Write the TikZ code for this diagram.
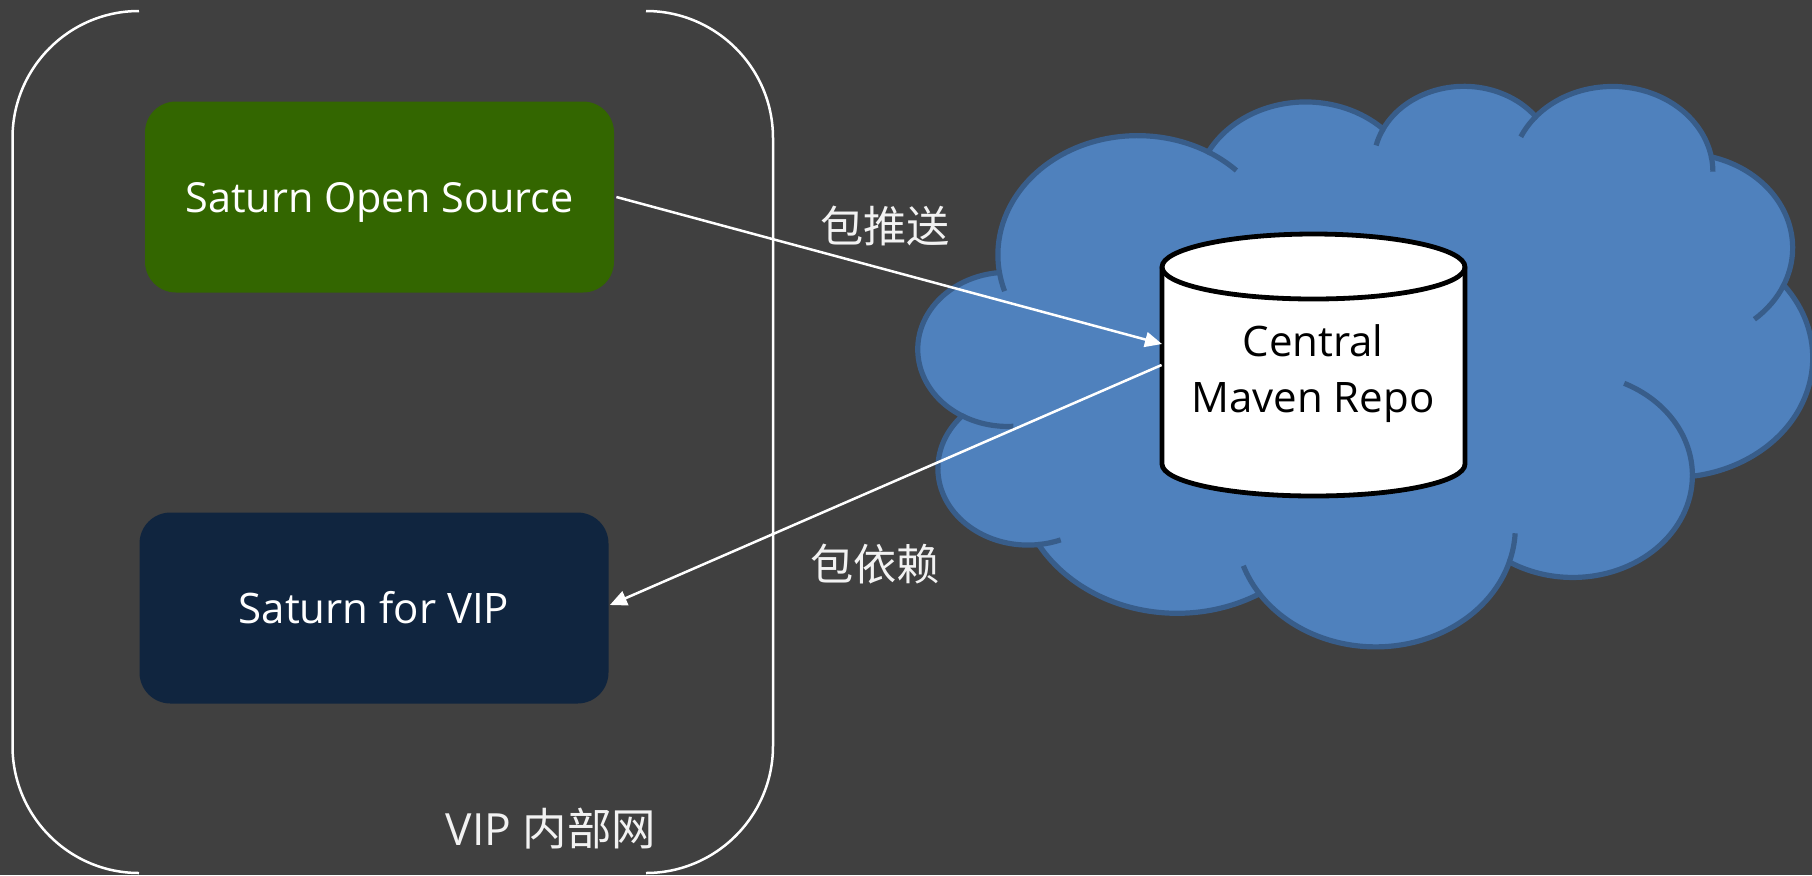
\documentclass[tikz,border=0pt]{standalone}
\usepackage{fontspec}
\setmainfont{Open Sans}
\newfontfamily\cjk{Noto Sans CJK SC}
\usetikzlibrary{arrows.meta}
\definecolor{bgc}{HTML}{404040}
\definecolor{cloudfill}{HTML}{4F81BD}
\definecolor{cloudline}{HTML}{385D8A}
\definecolor{greenbox}{HTML}{336600}
\definecolor{navybox}{HTML}{10253F}
\definecolor{soft}{HTML}{F2F2F2}
\newcommand\calcarc[5]{%
  \pgfmathsetmacro\tmpS{atan2(#2*sin(#4),#3*cos(#4))}%
  \pgfmathsetmacro\tmpE{atan2(#2*sin(#4+#5),#3*cos(#4+#5))}%
  \pgfmathsetmacro\tmpE{\tmpE<\tmpS ? \tmpE+360 : \tmpE}%
  \expandafter\let\csname cS#1\endcsname\tmpS
  \expandafter\let\csname cE#1\endcsname\tmpE}
\newcommand\ArcS[1]{\csname cS#1\endcsname}
\newcommand\ArcE[1]{\csname cE#1\endcsname}
\tikzset{
  panel/.style={rounded corners=15.5pt,minimum width=234.5pt,minimum height=95.5pt,inner sep=0pt,text=white,text height=18pt,text depth=3pt},
  bracketline/.style={draw=white,line width=1.25pt},
  cloudedge/.style={draw=cloudline,line width=2.6pt},
  link/.style={draw=white,line width=1.25pt,-{Triangle[length=8.5pt,width=7.5pt]}},
  cjklabel/.style={text=soft,inner sep=0pt,font=\fontsize{21.6}{25}\selectfont\cjk},
  cylline/.style={draw=black,line width=2.4pt,fill=white}
}
\begin{document}
\begin{tikzpicture}[x=0.5pt,y=-0.5pt]
\useasboundingbox (0,0) rectangle (1812,875);
\fill[bgc] (0,0) rectangle (1812,875);
% bracket
\draw[bracketline] (139,11) .. controls (69,11) and (12.5,68) .. (12.5,138) -- (12.5,746) .. controls (12.5,816) and (69,873) .. (139,873);
\draw[bracketline] (646,11) .. controls (716,11) and (773,68) .. (773,138) -- (773,746) .. controls (773,816) and (716,873) .. (646,873);
% cloud
\calcarc{a}{6753}{9190}{-190.4875}{123.7805}
\calcarc{b}{5333}{7267}{-144.1024}{89.9452}
\calcarc{c}{4365}{5945}{-145.8079}{99.7230}
\calcarc{d}{4857}{6595}{-130.9861}{117.2417}
\calcarc{e}{5333}{7273}{-78.7089}{109.0269}
\calcarc{f}{6775}{9220}{-46.2673}{130.2690}
\calcarc{g}{5785}{7867}{0.6250}{114.0333}
\calcarc{h}{6752}{9215}{22.4516}{115.1726}
\calcarc{i}{7720}{10543}{66.2426}{75.7110}
\calcarc{j}{4360}{5918}{-274.9421}{146.7356}
\calcarc{k}{4345}{5945}{-246.8285}{152.5189}
\begin{scope}[shift={(918.5,84.5)},x=0.01034pt,y=-0.00649pt]
\draw[cloudedge,fill=cloudfill] (3900,14370) coordinate (ja)
  arc[x radius=6753,y radius=9190,start angle=\ArcS{a},end angle=\ArcE{a}] coordinate (jb)
  arc[x radius=5333,y radius=7267,start angle=\ArcS{b},end angle=\ArcE{b}] coordinate (jc)
  arc[x radius=4365,y radius=5945,start angle=\ArcS{c},end angle=\ArcE{c}] coordinate (jd)
  arc[x radius=4857,y radius=6595,start angle=\ArcS{d},end angle=\ArcE{d}] coordinate (je)
  arc[x radius=5333,y radius=7273,start angle=\ArcS{e},end angle=\ArcE{e}] coordinate (jf)
  arc[x radius=6775,y radius=9220,start angle=\ArcS{f},end angle=\ArcE{f}] coordinate (jg)
  arc[x radius=5785,y radius=7867,start angle=\ArcS{g},end angle=\ArcE{g}] coordinate (jh)
  arc[x radius=6752,y radius=9215,start angle=\ArcS{h},end angle=\ArcE{h}] coordinate (ji)
  arc[x radius=7720,y radius=10543,start angle=\ArcS{i},end angle=\ArcE{i}] coordinate (jj)
  arc[x radius=4360,y radius=5918,start angle=\ArcS{j},end angle=\ArcE{j}] coordinate (jk)
  arc[x radius=4345,y radius=5945,start angle=\ArcS{k},end angle=\ArcE{k}] -- cycle;
\draw[cloudedge] (ja) arc[x radius=6753,y radius=9190,start angle=\ArcS{a},delta angle=-10];
\draw[cloudedge] (jb) arc[x radius=6753,y radius=9190,start angle=\ArcE{a},delta angle=14.6];
\draw[cloudedge] (jc) arc[x radius=4365,y radius=5945,start angle=\ArcS{c},delta angle=-13];
\draw[cloudedge] (jd) arc[x radius=4857,y radius=6595,start angle=\ArcS{d},delta angle=-16];
\draw[cloudedge] (je) arc[x radius=4857,y radius=6595,start angle=\ArcE{d},delta angle=10];
\draw[cloudedge] (jf) arc[x radius=5333,y radius=7273,start angle=\ArcE{e},delta angle=26];
\draw[cloudedge] (jg) arc[x radius=5785,y radius=7867,start angle=\ArcS{g},delta angle=-65];
\draw[cloudedge] (jh) arc[x radius=6752,y radius=9215,start angle=\ArcS{h},delta angle=-14];
\draw[cloudedge] (ji) arc[x radius=6752,y radius=9215,start angle=\ArcE{h},delta angle=15];
\draw[cloudedge] (jj) arc[x radius=4360,y radius=5918,start angle=\ArcS{j},delta angle=-14.5];
\draw[cloudedge] (jk) arc[x radius=4345,y radius=5945,start angle=\ArcS{k},delta angle=-34];
\end{scope}
% boxes
\node[panel,fill=greenbox,font=\fontsize{20.7}{24}\selectfont] (open) at (379.5,197) {Saturn Open Source};
\node[panel,fill=navybox,font=\fontsize{21}{24}\selectfont] (vip) at (374,608) {Saturn for VIP};
% cylinder
\draw[cylline] (1162,267) .. controls (1162,249) and (1230,234) .. (1313.5,234)
  .. controls (1397,234) and (1465,249) .. (1465,267) -- (1465,464)
  .. controls (1465,482) and (1397,496) .. (1313.5,496)
  .. controls (1230,496) and (1162,482) .. (1162,464) -- cycle;
\draw[draw=black,line width=2.4pt] (1162,267) .. controls (1162,285) and (1230,299) .. (1313.5,299)
  .. controls (1397,299) and (1465,285) .. (1465,267);
\node[minimum width=151.5pt,minimum height=131pt,inner sep=0pt] (repo) at (1313.5,365) {};
\node[align=center,text=black,inner sep=0pt,font=\fontsize{21}{28}\selectfont] (repolabel) at (1313,373.5) {Central\\Maven Repo};
% labels
\node[cjklabel] (push) at (885,226) {包推送};
\node[cjklabel] (dep) at (875,564.5) {包依赖};
\node[text=soft,inner sep=0pt,font=\fontsize{22.2}{25}\selectfont] (net) at (551,828.5) {VIP {\cjk 内部网}};
% links
\coordinate (pushend) at (1162,344);
\draw[link] ([xshift=1pt]open.east) -- (pushend);
\draw[link] (repo.west) -- ([xshift=0.5pt,yshift=1.5pt]vip.east);
\end{tikzpicture}
\end{document}
